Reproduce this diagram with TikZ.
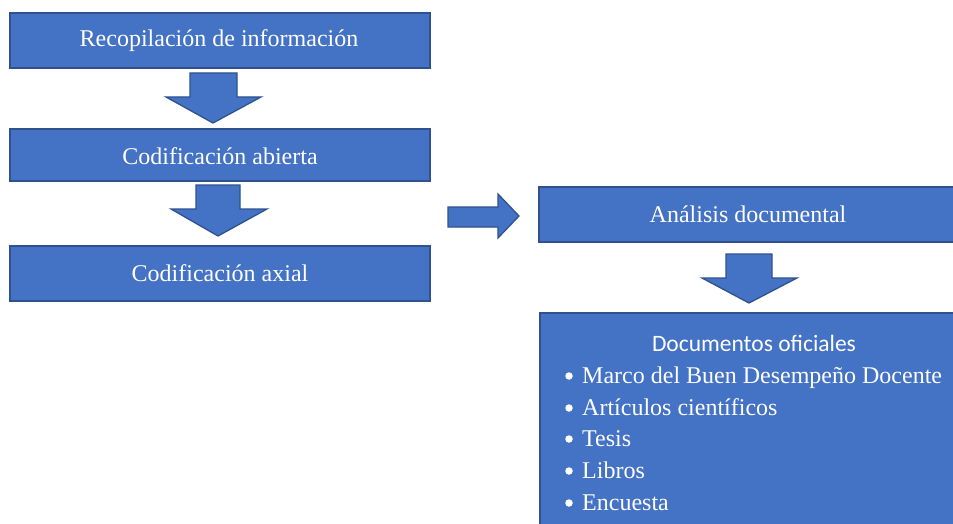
\documentclass[tikz,border=0pt]{standalone}
\usepackage{fontspec}
\setmainfont{Liberation Serif}
\newfontfamily\calibri{Carlito}
\definecolor{boxfill}{HTML}{4472C4}
\definecolor{boxline}{HTML}{2F528F}
\begin{document}
\begin{tikzpicture}[x=1pt,y=-1pt,
  blk/.style={fill=boxfill,draw=boxline,line width=1.6pt},
  lbl/.style={text=white,font=\fontsize{24}{28}\selectfont,inner sep=0pt},
  itm/.style={text=white,font=\fontsize{24}{28}\selectfont,inner sep=0pt,anchor=base west},
  dot/.style={circle,fill=white,inner sep=0pt,minimum size=7.5pt}]
\useasboundingbox (0,0) rectangle (953,524);
\begin{scope}
\clip (0,0) rectangle (953,524);
% boxes
\draw[blk] (10,13) rectangle (430,68);
\node[lbl] (b1) at (219,41) {Recopilación de información};
\draw[blk] (10,129) rectangle (430,181);
\node[lbl] (b2) at (220,156) {Codificación abierta};
\draw[blk] (10,246) rectangle (430,301);
\node[lbl] (b3) at (220,273) {Codificación axial};
\draw[blk] (539,187) rectangle (960,242);
\node[lbl] (b4) at (748,214) {Análisis documental};
\draw[blk] (540,313) rectangle (960,540);
% block arrows
\draw[blk,line width=1.3pt] (190,73) -- (237,73) -- (237,97) -- (261,97) -- (213,123) -- (166,97) -- (190,97) -- cycle;
\draw[blk,line width=1.3pt] (196,185) -- (240,185) -- (240,209) -- (267,209) -- (218,236) -- (171,209) -- (196,209) -- cycle;
\draw[blk,line width=1.3pt] (448,207) -- (498,207) -- (498,194) -- (519,216) -- (498,238) -- (498,227) -- (448,227) -- cycle;
\draw[blk,line width=1.3pt] (726,254) -- (772,254) -- (772,278) -- (797,278) -- (749,303) -- (702,278) -- (726,278) -- cycle;
% list
\node[text=white,font=\calibri\fontsize{23.5}{28}\selectfont,inner sep=0pt] (h5) at (754,343) {Documentos oficiales};
\node[itm] (i1) at (582,383) {Marco del Buen Desempeño Docente};
\node[itm] (i2) at (582,415) {Artículos científicos};
\node[itm] (i3) at (582,446) {Tesis};
\node[itm] (i4) at (582,478) {Libros};
\node[itm] (i5) at (582,510) {Encuesta};
\node[dot] (d1) at (569,376) {};
\node[dot] (d2) at (569,408) {};
\node[dot] (d3) at (569,439) {};
\node[dot] (d4) at (569,471) {};
\node[dot] (d5) at (569,503) {};
\end{scope}
\end{tikzpicture}
\end{document}
